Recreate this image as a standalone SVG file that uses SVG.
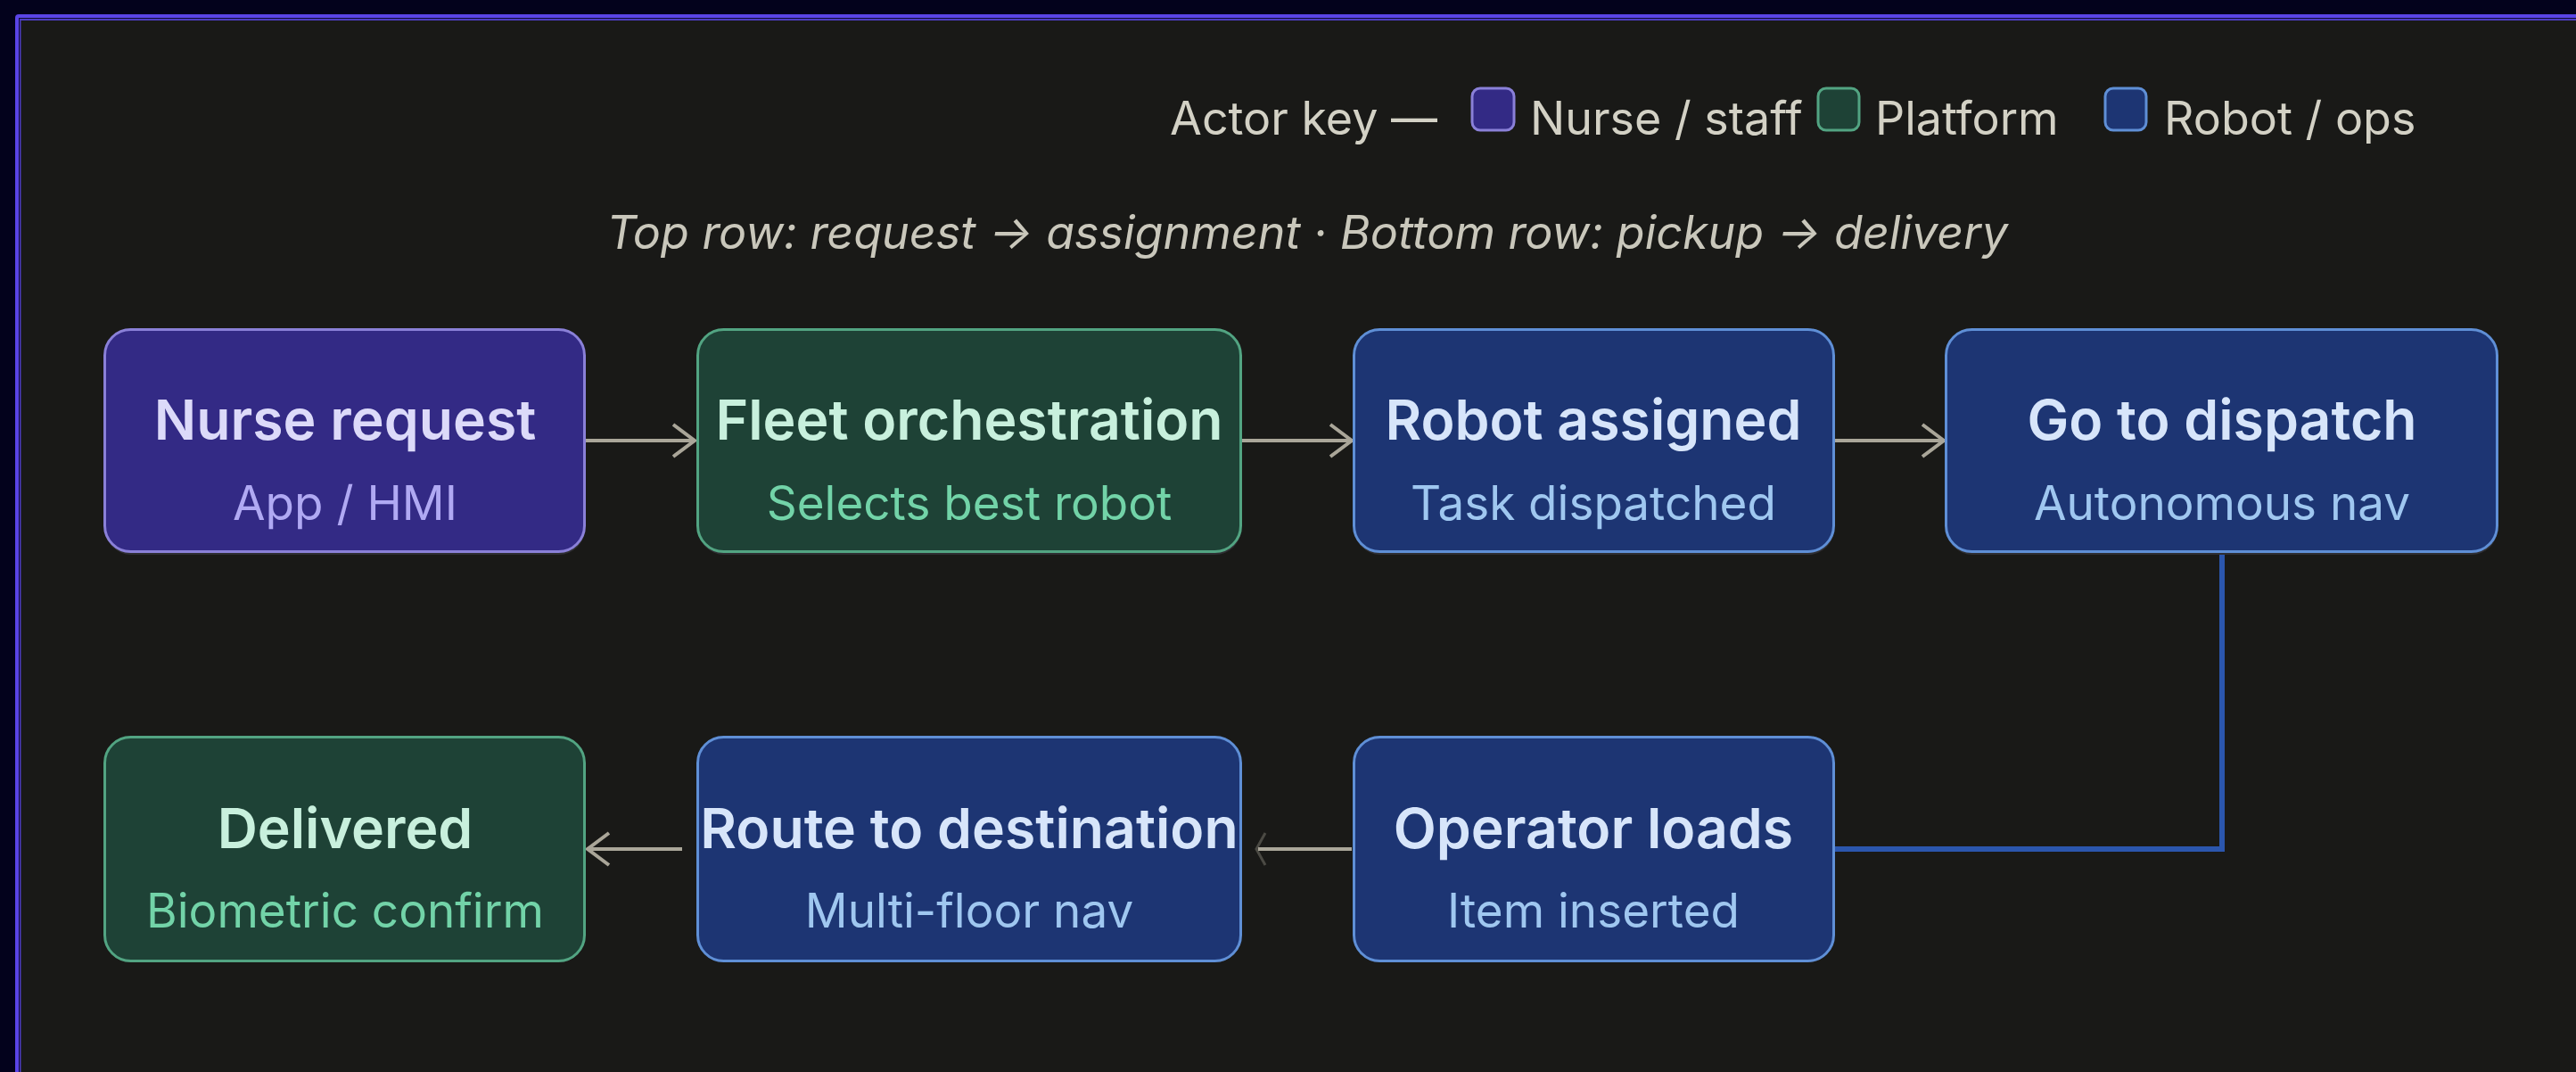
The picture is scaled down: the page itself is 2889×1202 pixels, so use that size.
<svg xmlns="http://www.w3.org/2000/svg" width="2889" height="1202" viewBox="0 0 2889 1202">
<defs>
<style>
text{font-family:Inter,"Noto Sans","Liberation Sans",sans-serif;}
.t{font-size:62.5px;font-weight:600;text-anchor:middle;}
.s{font-size:53px;font-weight:400;text-anchor:middle;}
.hdr{font-size:52px;fill:#d3d1c5;}
.sub{font-size:52px;font-style:italic;fill:#c9c7bb;text-anchor:middle;}
.box{stroke-width:3;}
.shadow{fill:#2e2e32;}
.nurse .box{fill:#332a85;stroke:#8a80d8;}
.nurse .t{fill:#dcdaf9;}
.nurse .s{fill:#b0a9f3;}
.plat .box{fill:#1e4236;stroke:#52a482;}
.plat .t{fill:#c8f0dd;}
.plat .s{fill:#72d3a8;}
.robot .box{fill:#1d3573;stroke:#5f8fd6;}
.robot .t{fill:#d7e5fa;}
.robot .s{fill:#9fc7f0;}
.arr{fill:none;stroke:#aaa699;stroke-width:4;}
.link{fill:none;stroke:#2b56ad;stroke-width:6;}
</style>
<marker id="chev" markerUnits="userSpaceOnUse" viewBox="-30 -25 40 50" markerWidth="40" markerHeight="50" refX="0" refY="0" orient="auto" overflow="visible">
<path d="M-24,-18 L0,0 L-24,18" fill="none" stroke="#aaa699" stroke-width="4"/>
</marker>
</defs>
<rect x="0" y="0" width="2889" height="1202" fill="#03021c"/>
<g id="frame">
<rect x="17" y="16" width="3000" height="3000" rx="4" fill="#5a45e6"/>
<rect x="21" y="20" width="3000" height="3000" fill="#110d33"/>
<rect x="22" y="21" width="3000" height="3000" fill="#4c3cc2"/>
<rect x="23.5" y="23" width="3000" height="3000" fill="#191917"/>
</g>
<g id="legend">
<text class="hdr" x="1312" y="151">Actor key —</text>
<rect x="1651" y="99" width="47" height="47" rx="9" fill="#332a85" stroke="#8a80d8" stroke-width="3"/>
<text class="hdr" x="1716" y="151">Nurse / staff</text>
<rect x="2039" y="99" width="46" height="47" rx="9" fill="#1e4236" stroke="#52a482" stroke-width="3"/>
<text class="hdr" x="2103" y="151">Platform</text>
<rect x="2361" y="99" width="46" height="47" rx="9" fill="#1d3573" stroke="#5f8fd6" stroke-width="3"/>
<text class="hdr" x="2427" y="151">Robot / ops</text>
</g>
<text id="subtitle" class="sub" x="1466" y="279">Top row: request → assignment · Bottom row: pickup → delivery</text>
<g id="connectors">
<path class="arr" d="M657,494 L779,494" marker-end="url(#chev)"/>
<path class="arr" d="M1393,494 L1516,494" marker-end="url(#chev)"/>
<path class="arr" d="M2058,494 L2180,494" marker-end="url(#chev)"/>
<path class="arr" d="M765,952 L659,952" marker-end="url(#chev)"/>
<path class="arr" d="M1516,952 L1411,952"/>
<path d="M1419,934 L1409,952 L1419,970" fill="none" stroke="#aaa699" stroke-width="3" opacity="0.35"/>
<path class="link" d="M2492,620 L2492,952 L2058,952"/>
</g>
<g id="n-nurse" class="nurse">
<rect class="shadow" x="118" y="374" width="538" height="248" rx="29"/>
<rect class="box" x="117.5" y="369.5" width="538" height="249" rx="29"/>
<text class="t" x="387" y="493">Nurse request</text>
<text class="s" x="387" y="583">App / HMI</text>
</g>
<g id="n-fleet" class="plat">
<rect class="shadow" x="783" y="374" width="609" height="248" rx="29"/>
<rect class="box" x="782.5" y="369.5" width="609" height="249" rx="29"/>
<text class="t" x="1087" y="493">Fleet orchestration</text>
<text class="s" x="1087" y="583">Selects best robot</text>
</g>
<g id="n-assigned" class="robot">
<rect class="shadow" x="1519" y="374" width="538" height="248" rx="29"/>
<rect class="box" x="1518.5" y="369.5" width="538" height="249" rx="29"/>
<text class="t" x="1787" y="493">Robot assigned</text>
<text class="s" x="1787" y="583">Task dispatched</text>
</g>
<g id="n-dispatch" class="robot">
<rect class="shadow" x="2183" y="374" width="618" height="248" rx="29"/>
<rect class="box" x="2182.5" y="369.5" width="618" height="249" rx="29"/>
<text class="t" x="2492" y="493">Go to dispatch</text>
<text class="s" x="2492" y="583">Autonomous nav</text>
</g>
<g id="n-delivered" class="plat">
<rect class="shadow" x="118" y="831" width="538" height="248" rx="29"/>
<rect class="box" x="117.5" y="826.5" width="538" height="251" rx="29"/>
<text class="t" x="387" y="951">Delivered</text>
<text class="s" x="387" y="1040">Biometric confirm</text>
</g>
<g id="n-route" class="robot">
<rect class="shadow" x="783" y="831" width="609" height="248" rx="29"/>
<rect class="box" x="782.5" y="826.5" width="609" height="251" rx="29"/>
<text class="t" x="1087" y="951">Route to destination</text>
<text class="s" x="1087" y="1040">Multi-floor nav</text>
</g>
<g id="n-operator" class="robot">
<rect class="shadow" x="1519" y="831" width="538" height="248" rx="29"/>
<rect class="box" x="1518.5" y="826.5" width="538" height="251" rx="29"/>
<text class="t" x="1787" y="951">Operator loads</text>
<text class="s" x="1787" y="1040">Item inserted</text>
</g>
</svg>
